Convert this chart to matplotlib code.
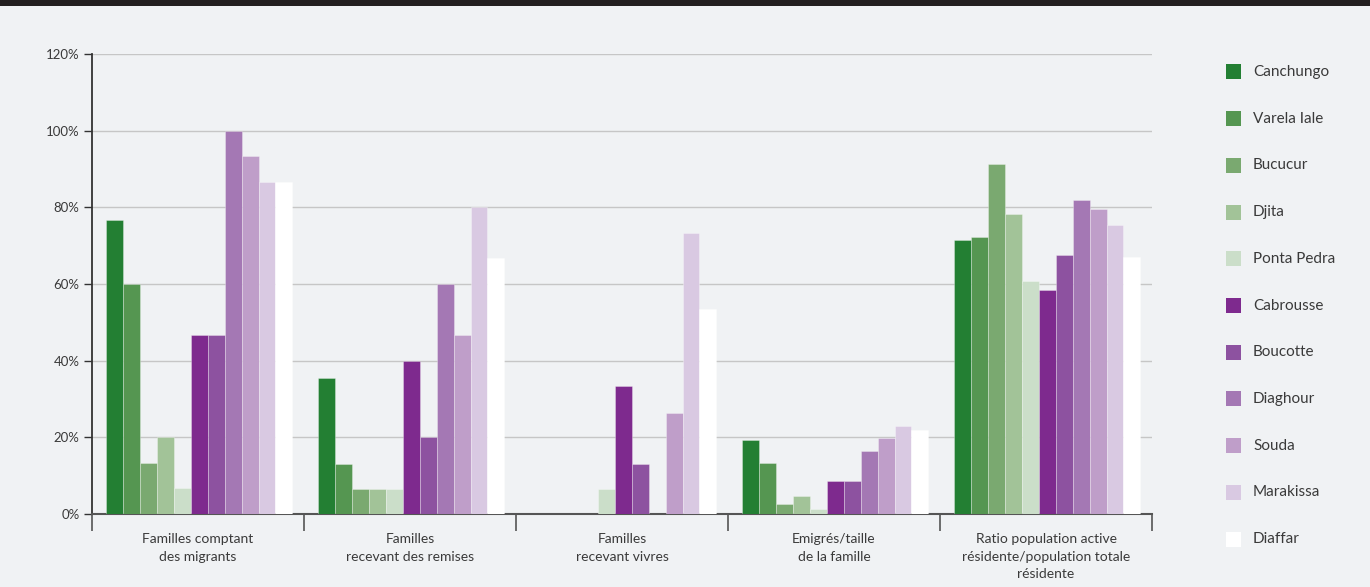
#!/usr/bin/python3

import numpy as np
import matplotlib
matplotlib.use('Agg')
import matplotlib.pyplot as plt
from matplotlib.patches import Rectangle

# categories (x groups)
categories = ['Familles comptant\ndes migrants',
              'Familles\nrecevant des remises',
              'Familles\nrecevant vivres',
              'Emigrés/taille\nde la famille',
              'Ratio population active\nrésidente/population totale\nrésidente']

villages = ['Canchungo', 'Varela Iale', 'Bucucur', 'Djita', 'Ponta Pedra',
            'Cabrousse', 'Boucotte', 'Diaghour', 'Souda', 'Marakissa', 'Diaffar']

colors = ['#237f33', '#559651', '#7aa970', '#a2c398', '#cbdec9',
          '#7e2a8e', '#8d52a0', '#a478b4', '#bf9ec9', '#d9c9e2', '#ffffff']

# values in %, one list per village (order of categories)
canchungo  = [76.7, 35.4, 0.0, 19.4, 71.5]
varela     = [60.0, 13.1, 0.0, 13.4, 72.3]
bucucur    = [13.3, 6.6, 0.0, 2.7, 91.3]
djita      = [20.0, 6.6, 0.0, 4.8, 78.3]
ponta      = [6.7, 6.6, 6.6, 1.4, 60.7]
cabrousse  = [46.7, 40.0, 33.3, 8.7, 58.5]
boucotte   = [46.7, 20.0, 13.0, 8.7, 67.6]
diaghour   = [100.0, 60.0, 0.0, 16.5, 81.8]
souda      = [93.3, 46.7, 26.3, 19.9, 79.6]
marakissa  = [86.7, 80.0, 73.3, 23.0, 75.3]
diaffar    = [86.7, 66.8, 53.5, 22.0, 67.0]

series = [canchungo, varela, bucucur, djita, ponta, cabrousse,
          boucotte, diaghour, souda, marakissa, diaffar]

yticks = [0, 20, 40, 60, 80, 100, 120]

BG = '#f0f2f4'
TXT = '#3a3a3a'

def main():
   plt.rcParams['font.family'] = ['Lato', 'DejaVu Sans']
   fig = plt.figure(figsize=(13.7, 5.87), dpi=100, facecolor=BG)
   ax = fig.add_axes([92/1370, 1-514/587, 1060/1370, 460/587])
   ax.set_facecolor(BG)

   # dark band on top
   fig.patches.append(Rectangle((0, 1-6/587), 1, 6/587, transform=fig.transFigure,
                                facecolor='#231f20', edgecolor='none'))

   n = len(series)
   bw = 186/212/n
   x = np.arange(len(categories))
   start = 0.5 - 0.5*bw*n + 0.0066
   for i, vals in enumerate(series):
      v = np.array(vals, dtype=float)
      v[v == 0] = np.nan   # no sliver for empty bars
      ax.bar(x + start + bw*(i+0.5), v, width=bw, color=colors[i],
             edgecolor=(1, 1, 1, 0.35), linewidth=0.6, zorder=3)

   ax.set_xlim(0, len(categories))
   ax.set_ylim(0, 120)
   ax.set_yticks(yticks)
   ax.set_yticklabels([str(t)+'%' for t in yticks], fontsize=9.5, color=TXT)
   ax.yaxis.grid(True, color='#c6c6c6', linewidth=1.0, zorder=0)
   ax.tick_params(axis='y', length=6, width=1, color='#333333', pad=3, direction='out')

   # category boundary ticks, labels in the middle
   ax.set_xticks(np.arange(len(categories)+1))
   ax.set_xticklabels([])
   ax.tick_params(axis='x', length=12, width=1.2, color='#555555')
   ax.set_xticks(x + 0.5, minor=True)
   ax.set_xticklabels(categories, minor=True, fontsize=10, color=TXT,
                      linespacing=1.55)
   ax.tick_params(axis='x', which='minor', length=0, pad=14)

   for s in ['top', 'right']:
      ax.spines[s].set_visible(False)
   ax.spines['left'].set_color('#333333')
   ax.spines['left'].set_linewidth(1.3)
   ax.spines['bottom'].set_color('#555555')
   ax.spines['bottom'].set_linewidth(1.5)

   # legend, drawn by hand
   for i, name in enumerate(villages):
      yc = 1 - (72 + i*46.7)/587
      fig.patches.append(Rectangle((1226/1370, yc - 7.5/587), 15/1370, 15/587,
                                   transform=fig.transFigure,
                                   facecolor=colors[i], edgecolor='none'))
      fig.text(1253/1370, yc, name, fontsize=11, color=TXT, va='center', ha='left')

   plt.savefig('out.png', dpi=100, facecolor=BG)
   return

main()
